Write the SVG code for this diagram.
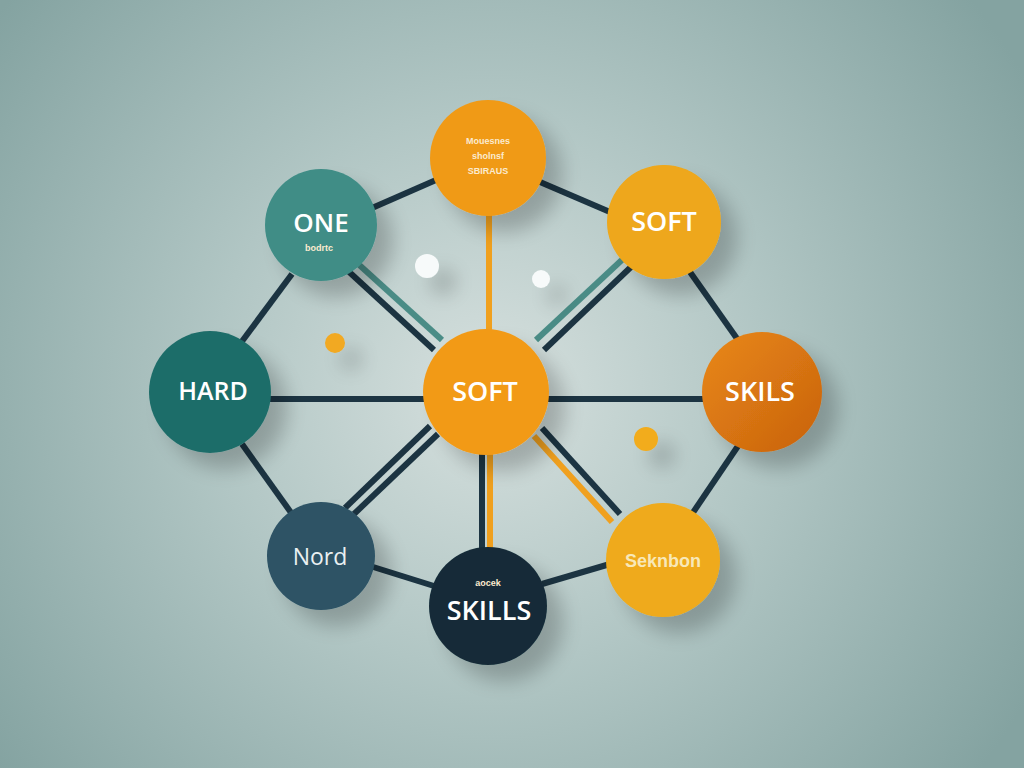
<svg xmlns="http://www.w3.org/2000/svg" width="1024" height="768" viewBox="0 0 1024 768">
<defs>
<radialGradient id="bg" cx="490" cy="390" r="620" gradientUnits="userSpaceOnUse">
<stop offset="0" stop-color="#D6E0DE"/>
<stop offset="0.45" stop-color="#B1C6C4"/>
<stop offset="1" stop-color="#84A3A1"/>
</radialGradient>
<linearGradient id="skils" x1="0" y1="0" x2="1" y2="1">
<stop offset="0" stop-color="#E98816"/>
<stop offset="1" stop-color="#C8620E"/>
</linearGradient>
<filter id="sh" filterUnits="userSpaceOnUse" x="0" y="0" width="1024" height="768">
<feGaussianBlur in="SourceAlpha" stdDeviation="10"/>
<feOffset dx="16" dy="16" result="b"/>
<feComponentTransfer><feFuncA type="linear" slope="0.22"/></feComponentTransfer>
<feMerge><feMergeNode/><feMergeNode in="SourceGraphic"/></feMerge>
</filter>
<style>
.dk{stroke:#1C3442;stroke-width:6;fill:none;stroke-linecap:butt}
.tl{stroke:#4A8C86;stroke-width:6;fill:none}
.or{stroke:#F0A01E;stroke-width:6;fill:none}
.big{font-family:"Open Sans",Lato,"Liberation Sans",sans-serif;font-weight:600;fill:#FFFFFF;text-anchor:middle}
.tiny{font-family:"Liberation Sans",Arial,sans-serif;font-weight:700;fill:#FBEBD0;text-anchor:middle;font-size:9px}
</style>
</defs>
<rect width="1024" height="768" fill="url(#bg)"/>

<g id="connectors">
<line class="dk" x1="372" y1="208" x2="436" y2="180"/>
<line class="dk" x1="540" y1="182" x2="610" y2="212"/>
<line class="dk" x1="292" y1="274" x2="240" y2="344"/>
<line class="dk" x1="690" y1="272" x2="738" y2="340"/>
<line class="dk" x1="242" y1="444" x2="292" y2="514"/>
<line class="dk" x1="738" y1="446" x2="692" y2="514"/>
<line class="dk" x1="370" y1="566" x2="434" y2="586"/>
<line class="dk" x1="542" y1="584" x2="610" y2="564"/>
<line class="dk" x1="270" y1="399" x2="425" y2="399"/>
<line class="dk" x1="548" y1="399" x2="704" y2="399"/>
<line class="or" x1="489" y1="214" x2="489" y2="332"/>
<line class="tl" x1="356" y1="262" x2="442" y2="340"/>
<line class="dk" x1="347" y1="270" x2="434" y2="350"/>
<line class="tl" x1="624" y1="258" x2="536" y2="340"/>
<line class="dk" x1="632" y1="266" x2="544" y2="350"/>
<line class="dk" x1="430" y1="426" x2="345" y2="508"/>
<line class="dk" x1="438" y1="434" x2="354" y2="514"/>
<line class="dk" x1="482" y1="454" x2="482" y2="548"/>
<line class="or" x1="490" y1="454" x2="490" y2="548"/>
<line class="or" x1="534" y1="436" x2="612" y2="522"/>
<line class="dk" x1="542" y1="428" x2="620" y2="514"/>
</g>

<g id="dots">
<circle cx="427" cy="266" r="12" fill="#F7FAFA" filter="url(#sh)"/>
<circle cx="541" cy="279" r="9" fill="#F7FAFA" filter="url(#sh)"/>
<circle cx="335" cy="343" r="10" fill="#F2A922" filter="url(#sh)"/>
<circle cx="646" cy="439" r="12" fill="#F2AC1E" filter="url(#sh)"/>
</g>

<g id="node-top">
<circle cx="488" cy="158" r="58" fill="#F09A18" filter="url(#sh)"/>
<text class="tiny" x="488" y="144">Mouesnes</text>
<text class="tiny" x="488" y="159">sholnsf</text>
<text class="tiny" x="488" y="174">SBIRAUS</text>
</g>

<g id="node-one">
<circle cx="321" cy="225" r="56" fill="#3F8D86" filter="url(#sh)"/>
<text class="big" x="321" y="232" font-size="26">ONE</text>
<text class="tiny" x="319" y="251" font-size="7" fill="#E8F2F0">bodrtc</text>
</g>

<g id="node-soft-tr">
<circle cx="664" cy="222" r="57" fill="#EEA71A" filter="url(#sh)"/>
<text class="big" x="664" y="231" font-size="27">SOFT</text>
</g>

<g id="node-hard">
<circle cx="210" cy="392" r="61" fill="#1F6D69" filter="url(#sh)"/>
<text class="big" x="213" y="400" font-size="25">HARD</text>
</g>

<g id="node-soft-center">
<circle cx="486" cy="392" r="63" fill="#F29A18" filter="url(#sh)"/>
<text class="big" x="485" y="401" font-size="27">SOFT</text>
</g>

<g id="node-skils">
<circle cx="762" cy="392" r="60" fill="url(#skils)" filter="url(#sh)"/>
<text class="big" x="760" y="401" font-size="27">SKILS</text>
</g>

<g id="node-nord">
<circle cx="321" cy="556" r="54" fill="#2D5365" filter="url(#sh)"/>
<text x="320" y="565" font-family="'Open Sans',Lato,'Liberation Sans',sans-serif" font-size="23" fill="#EAF0F2" text-anchor="middle">Nord</text>
</g>

<g id="node-skills">
<circle cx="488" cy="606" r="59" fill="#142C38" filter="url(#sh)"/>
<text class="tiny" x="488" y="586" font-size="8" fill="#DDE6E8">aocek</text>
<text class="big" x="489" y="620" font-size="27">SKILLS</text>
</g>

<g id="node-seknbon">
<circle cx="663" cy="560" r="57" fill="#EFAA1A" filter="url(#sh)"/>
<text x="663" y="567" font-family="'Liberation Sans',Arial,sans-serif" font-weight="700" font-size="18" fill="#F8E8B8" text-anchor="middle">Seknbon</text>
</g>
</svg>
